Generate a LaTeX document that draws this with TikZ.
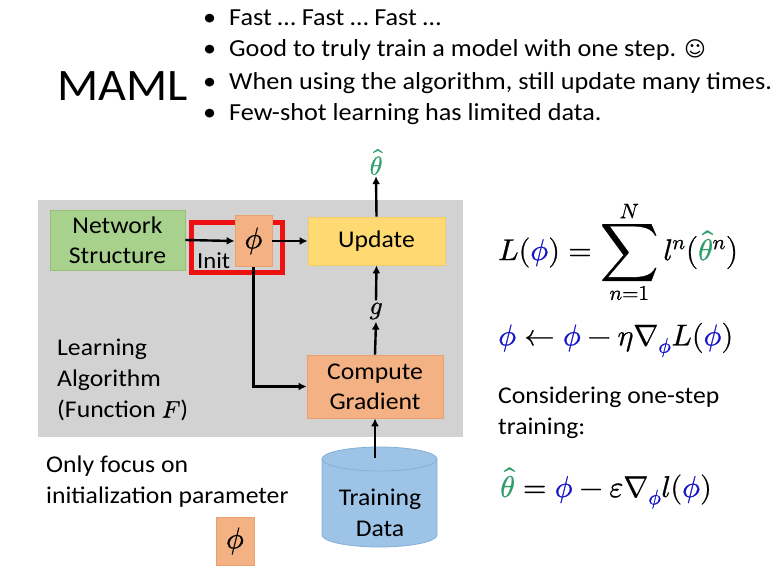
\documentclass[tikz,border=0pt]{standalone}
\usepackage{graphicx}
\usepackage{fontspec}
\usepackage{unicode-math}
\setmainfont{Carlito}[FakeStretch=1.07]
\setmathfont{Latin Modern Math}[FakeBold=0.8]
\newfontfamily\symfont{DejaVu Sans}
\usetikzlibrary{arrows.meta}
\definecolor{graybg}{HTML}{D2D2D2}
\definecolor{greenbox}{HTML}{A9D18E}
\definecolor{greenedge}{HTML}{94C07A}
\definecolor{salmon}{HTML}{F4B183}
\definecolor{salmonedge}{HTML}{E8A070}
\definecolor{yellowbox}{HTML}{FFDA73}
\definecolor{yellowedge}{HTML}{F2CC66}
\definecolor{cylblue}{HTML}{9DC3E6}
\definecolor{cyledge}{HTML}{86AFD8}
\definecolor{phiblue}{HTML}{1414C8}
\definecolor{thgreen}{HTML}{2E9E6A}
\definecolor{initred}{HTML}{EE1111}
\newcommand{\bp}{\textcolor{phiblue}{\phi}}
\newcommand{\gth}{\textcolor{thgreen}{\hat{\theta}}}
\tikzset{
  txt/.style={font=\fontsize{24}{31}\selectfont, inner sep=0pt},
  boxn/.style={font=\fontsize{24}{30}\selectfont, align=center, inner sep=0pt, draw, line width=0.8pt},
  arr/.style={line width=2.4pt, -{Latex[length=8pt,width=8pt]}},
  bul/.style={font=\fontsize{24.5}{31}\selectfont, inner sep=0pt, anchor=base west},
  eqn/.style={font=\fontsize{30}{34}\selectfont, inner sep=0pt, anchor=west},
}
\begin{document}
\begin{tikzpicture}[x=1pt,y=-1pt]
\useasboundingbox (0,0) rectangle (779,586);
\fill[white] (0,0) rectangle (779,586);

% title and bullets
\node[font=\fontsize{45}{50}\selectfont, inner sep=0pt, anchor=west] (maml) at (57,86) {MAML};
\node[bul] (b1) at (203,26) {\textbullet};
\node[bul] (t1) at (229,26) {Fast … Fast … Fast …};
\node[bul] (b2) at (203,57) {\textbullet};
\node[bul] (t2) at (229,57) {Good to truly train a model with one step. {\symfont\fontsize{21}{24}\selectfont ☺}};
\node[bul] (b3) at (203,89) {\textbullet};
\node[bul] (t3) at (229,89) {When using the algorithm, still update many times.};
\node[bul] (b4) at (203,120) {\textbullet};
\node[bul] (t4) at (229,120) {Few-shot learning has limited data.};

% gray learning algorithm box
\fill[graybg] (38,200) rectangle (463,437);

% red init box
\draw[initred, line width=4.5pt] (191.5,222.5) rectangle (282.5,272.5);

% nodes
\node[boxn, fill=greenbox, draw=greenedge, minimum width=135, minimum height=60] (ns) at (117.5,240) {Network\\Structure};
\node[boxn, fill=salmon, draw=salmonedge, minimum width=37, minimum height=51, font=\fontsize{30}{32}\selectfont] (phi) at (253.5,241) {$\phi$};
\node[font=\fontsize{23}{26}\selectfont, inner sep=0pt, anchor=base west] (init) at (197,268) {Init};
\node[boxn, fill=yellowbox, draw=yellowedge, minimum width=137, minimum height=48] (upd) at (376.5,241) {Update};
\node[boxn, fill=salmon, draw=salmonedge, minimum width=136, minimum height=63] (cg) at (375,386.5) {Compute\\Gradient};
\node[font=\fontsize{26}{28}\selectfont, text=thgreen, inner sep=1pt] (th) at (376,162) {$\hat{\theta}$};
\node[font=\fontsize{26}{28}\selectfont, inner sep=2pt] (g) at (376,311) {$g$};
\node[txt, anchor=west, align=left] (la) at (57,380) {Learning\\Algorithm\\(Function $F$)};

% training data cylinder
\path[fill=cylblue, draw=cyledge, line width=0.8pt] (322,459) -- (322,535)
  arc[start angle=180, end angle=360, x radius=57.5pt, y radius=12pt] -- (437,459)
  arc[start angle=0, end angle=180, x radius=57.5pt, y radius=12pt] -- cycle;
\draw[cyledge, line width=0.8pt] (322,459) arc[start angle=180, end angle=360, x radius=57.5pt, y radius=12pt];
\node[txt, align=center] (td) at (380,513) {Training\\Data};
\coordinate (tdtop) at (375,458);

% connectors
\draw[arr] (ns.east) -- (phi.west);
\draw[arr] (phi.east) -- (upd.west);
\draw[arr] (upd.north) -- (th.south);
\draw[arr] (cg.north) -- (g.south);
\draw[arr] (g.north) -- (upd.south);
\draw[arr] (phi.south) |- (cg.west);
\draw[arr] (tdtop) -- (cg.south);

% bottom-left text
\node[txt, anchor=west, align=left] (of) at (46,482) {Only focus on\\initialization parameter};
\node[boxn, fill=salmon, draw=salmonedge, minimum width=38, minimum height=48, font=\fontsize{30}{32}\selectfont] (phi2) at (235,541) {$\phi$};

% formulas
\node[eqn] (eq1) at (498,252)
  {$L(\bp) = \mathop{\vcenter{\hbox{\scalebox{1.35}{$\displaystyle\sum$}}}}\limits_{n=1}^{N} l^{n}\bigl(\gth^{n}\bigr)$};
\node[eqn] (eq2) at (498,340)
  {$\bp \leftarrow \bp - \eta\nabla_{\bp} L(\bp)$};
\node[txt, anchor=west, align=left] (cons) at (498,413) {Considering one-step\\training:};
\node[eqn] (eq3) at (500,488)
  {$\gth = \bp - \varepsilon\nabla_{\bp} l(\bp)$};
\end{tikzpicture}
\end{document}
